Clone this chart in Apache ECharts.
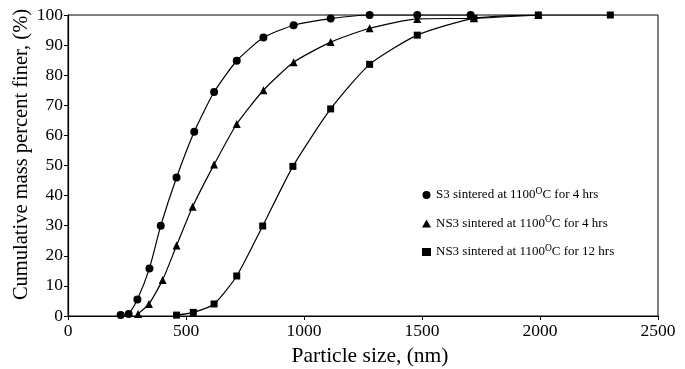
<!DOCTYPE html>
<html>
<head>
<meta charset="utf-8">
<script src="https://cdn.jsdelivr.net/npm/echarts@6/dist/echarts.min.js"></script>
<style>
  html, body { margin: 0; padding: 0; background: #fff; }
  #chart { width: 685px; height: 369px; }
</style>
</head>
<body>
<div id="chart"></div>
<script>
// particle size (nm) and cumulative % finer
const s3Size = [223, 257, 294, 345, 393, 460, 535, 619, 715, 828, 956, 1113, 1278, 1480, 1706]
const s3Finer = [0.3, 0.7, 5.5, 15.8, 30, 46, 61.2, 74.4, 84.8, 92.5, 96.6, 98.8, 100, 100, 100]

const ns4Size = [297, 343, 401, 460, 528, 619, 715, 828, 956, 1113, 1278, 1480, 1720, 1993]
const ns4Finer = [0.7, 4, 12, 23.4, 36.3, 50.3, 63.8, 75, 84.3, 91, 95.6, 98.7, 98.9, 100]

const ns12Size = [460, 531, 619, 715, 825, 953, 1113, 1278, 1480, 1720, 1993, 2298]
const ns12Finer = [0.3, 1.2, 4, 13.3, 29.9, 49.7, 68.8, 83.6, 93.3, 98.9, 100, 100]

const seriesNames = [
  'S3 sintered at 1100{sup|O}C for 4 hrs',
  'NS3 sintered at 1100{sup|O}C for 4 hrs',
  'NS3 sintered at 1100{sup|O}C for 12 hrs'
]

const pairs = (xs, ys) => xs.map((x, i) => [x, ys[i]])
const font = 'Liberation Serif'

const chart = echarts.init(document.getElementById('chart'))

function line(name, data, symbol, size) {
  return {
    name: name,
    type: 'line',
    data: data,
    symbol: symbol,
    symbolSize: size,
    smooth: 0.2,
    color: '#000',
    lineStyle: { color: '#000', width: 1.2 },
    itemStyle: { color: '#000' },
    animation: false
  }
}

chart.setOption({
  backgroundColor: '#fff',
  grid: {
    left: 68,
    right: 27,
    top: 15,
    bottom: 53,
    outerBoundsMode: 'none',
    show: true,
    borderColor: '#000',
    borderWidth: 1
  },
  legend: {
    orient: 'vertical',
    left: 417,
    top: 181,
    itemWidth: 9,
    itemHeight: 8,
    itemGap: 13,
    data: [
      { name: seriesNames[0], icon: 'circle' },
      { name: seriesNames[1], icon: 'triangle' },
      { name: seriesNames[2], icon: 'rect' }
    ],
    textStyle: {
      fontFamily: font,
      fontSize: 13,
      color: '#000',
      rich: {
        sup: { fontFamily: font, fontSize: 9.5, color: '#000', padding: [0, 0, 8, 0] }
      }
    }
  },
  xAxis: {
    type: 'value',
    min: 0,
    max: 2500,
    interval: 500,
    name: 'Particle size, (nm)',
    nameLocation: 'middle',
    nameGap: 29,
    nameMoveOverlap: false,
    nameTextStyle: { fontFamily: font, fontSize: 21.5, color: '#000', padding: [0, 0, 0, 14] },
    axisLine: { lineStyle: { color: '#000', width: 1.2 } },
    axisTick: { show: true, length: 4, lineStyle: { color: '#000' } },
    axisLabel: { fontFamily: font, fontSize: 17.5, color: '#000', margin: 6, formatter: v => String(v) },
    splitLine: { show: false }
  },
  yAxis: {
    type: 'value',
    min: 0,
    max: 100,
    interval: 10,
    name: 'Cumulative mass percent finer, (%)',
    nameLocation: 'middle',
    nameGap: 36,
    nameMoveOverlap: false,
    nameTextStyle: { fontFamily: font, fontSize: 20.5, color: '#000', padding: [0, 0, 0, 22] },
    axisLine: { show: true, lineStyle: { color: '#000', width: 1.2 } },
    axisTick: { show: true, length: 4, lineStyle: { color: '#000' } },
    axisLabel: { fontFamily: font, fontSize: 17.5, color: '#000', margin: 5 },
    splitLine: { show: false }
  },
  series: [
    line(seriesNames[0], pairs(s3Size, s3Finer), 'circle', 8),
    line(seriesNames[1], pairs(ns4Size, ns4Finer), 'triangle', 8),
    line(seriesNames[2], pairs(ns12Size, ns12Finer), 'rect', 7)
  ]
})
</script>
</body>
</html>
